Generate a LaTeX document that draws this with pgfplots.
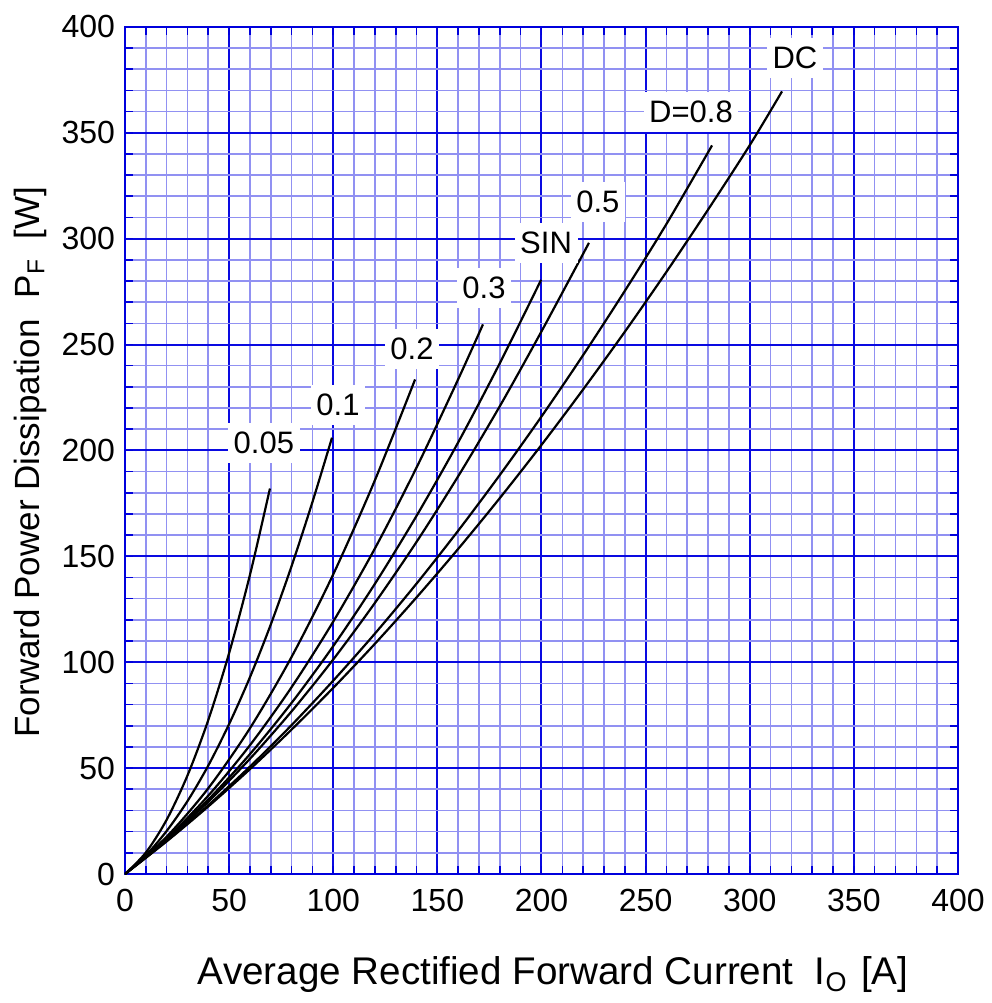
\documentclass[border=0pt]{standalone}
\usepackage{fontspec}
\setmainfont{Liberation Sans}
\usepackage{pgfplots}
\pgfplotsset{compat=1.18}
\definecolor{gridmaj}{RGB}{10,10,225}
\definecolor{gridmin}{RGB}{145,145,242}
\definecolor{framec}{RGB}{0,0,220}
\tikzset{lbl/.style={fill=white, inner xsep=2.8pt, inner ysep=4.5pt, font=\fontsize{15.5}{18}\selectfont},
  curve/.style={black, solid, line width=1.1pt, smooth, mark=none}}

\begin{document}
\begin{tikzpicture}
\begin{axis}[
  at={(0,0)}, anchor=south west,
  scale only axis, width=416.5pt, height=423.6pt,
  xmin=0, xmax=400, ymin=0, ymax=400,
  xtick={0,50,...,400}, ytick={0,50,...,400},
  minor xtick={10,20,30,40,60,70,80,90,110,120,130,140,160,170,180,190,210,220,230,240,260,270,280,290,310,320,330,340,360,370,380,390},
  minor ytick={10,20,30,40,60,70,80,90,110,120,130,140,160,170,180,190,210,220,230,240,260,270,280,290,310,320,330,340,360,370,380,390},
  xtick pos=both, ytick pos=both,
  tick align=inside,
  major tick length=4pt, minor tick length=4pt,
  grid=both,
  major grid style={gridmaj, line width=1pt},
  minor grid style={gridmin, line width=0.8pt},
  axis line style={framec, line width=1.3pt},
  every tick/.style={framec, line width=0.8pt},
  tick label style={font=\fontsize{16}{19}\selectfont},
  xticklabel style={yshift=-4pt},
  yticklabel style={xshift=-1.5pt},
  /pgf/number format/assume math mode=true,
  xlabel={Average Rectified Forward Current\hspace{0.55em}I\textsubscript{O}\hspace{0.35em}[A]},
  ylabel={Forward Power Dissipation\hspace{0.6em}P\textsubscript{F}\ \ [W]},
  every axis x label/.style={at={(axis description cs:0.514,-0.119)}, anchor=center, font=\fontsize{19.3}{23}\selectfont},
  every axis y label/.style={at={(axis description cs:-0.114,0.486)}, anchor=center, rotate=90, font=\fontsize{17.5}{21}\selectfont},
]
% D = 0.05
\addplot[curve] coordinates {(0,0) (10,10.1) (20,25.6) (30,46.5) (40,72.7) (50,104.3) (60,141.2) (69.6,182)};
% D = 0.1
\addplot[curve] coordinates {(0,0) (10,8.8) (20,20.3) (30,34.4) (40,51.2) (50,70.8) (60,92.9) (70,117.8) (80,145.4) (90,175.6) (99.4,206)};
% D = 0.2
\addplot[curve] coordinates {(0,0) (20,17.6) (40,40.5) (60,68.8) (80,102.5) (100,141.5) (120,185.9) (139.3,233.5)};
% D = 0.3
\addplot[curve] coordinates {(0,0) (20,16.7) (40,37.0) (60,60.8) (80,88.2) (100,119.2) (120,153.7) (140,191.9) (160,233.6) (171.9,259.5)};
% SIN
\addplot[curve] coordinates {(0,0) (20,16.2) (40,35.1) (60,56.6) (80,80.8) (100,107.6) (120,137.0) (140,169.1) (160,203.8) (180,241.2) (199.8,280.5)};
% D = 0.5
\addplot[curve] coordinates {(0,0) (20,16.0) (40,34.1) (60,54.4) (80,76.8) (100,101.3) (120,128.0) (140,156.8) (160,187.8) (180,220.9) (200,256.2) (222.8,298)};
% D = 0.8
\addplot[curve] coordinates {(0,0) (20,15.6) (40,32.5) (60,50.7) (80,70.3) (100,91.3) (120,113.5) (140,137.1) (160,162.1) (180,188.4) (200,216.0) (220,245.0) (240,275.3) (260,306.9) (281.9,344)};
% DC
\addplot[curve] coordinates {(0,0) (20,15.4) (40,31.9) (60,49.5) (80,68.2) (100,87.9) (120,108.7) (140,130.6) (160,153.5) (180,177.5) (200,202.6) (220,228.8) (240,256.0) (260,284.3) (280,313.7) (300,344.1) (315.5,369.5)};

\node[lbl] at (axis cs:66.7,203.5) {0.05};
\node[lbl] at (axis cs:102.3,221.4) {0.1};
\node[lbl] at (axis cs:137.8,247.9) {0.2};
\node[lbl] at (axis cs:172.4,276.7) {0.3};
\node[lbl] at (axis cs:202.2,297.9) {SIN};
\node[lbl] at (axis cs:227.1,317.3) {0.5};
\node[lbl] at (axis cs:271.8,359.8) {D=0.8};
\node[lbl] at (axis cs:321.7,385.3) {DC};
\end{axis}
\pgfresetboundingbox
\path (-62.5pt,-64.5pt) rectangle (433.5pt,437pt);
\end{tikzpicture}
\end{document}
